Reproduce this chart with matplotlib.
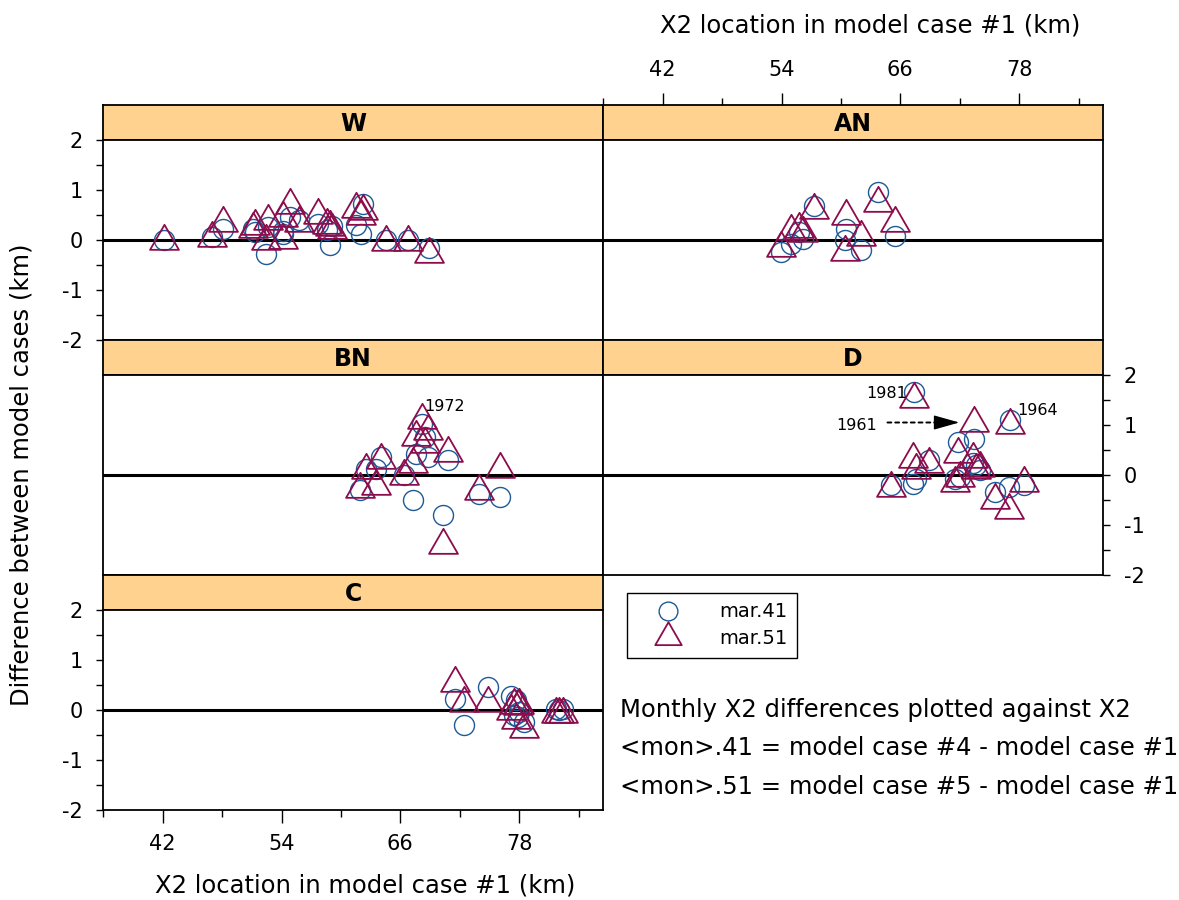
import numpy as np
import matplotlib.pyplot as plt
from matplotlib.path import Path
from matplotlib.lines import Line2D

plt.rcParams['font.family'] = ['DejaVu Sans']
plt.rcParams['axes.unicode_minus'] = False

# X2 in model case #1 (km) and differences (km) for march, by year type
w_x = [42.1, 47.0, 48.1, 51.1, 51.3, 52.4, 52.6, 54.1, 54.2, 54.9, 55.8,
       57.7, 58.6, 58.9, 59.1, 61.5, 62.2, 62.0, 64.6, 66.8, 68.9]
w_41 = [0.01, 0.07, 0.22, 0.23, 0.17, -0.28, 0.27, 0.13, 0.18, 0.47, 0.41,
        0.33, 0.20, -0.10, 0.28, 0.30, 0.72, 0.12, 0.01, 0.01, -0.15]
w_51 = [-0.02, 0.05, 0.34, 0.23, 0.29, -0.01, 0.38, 0.00, 0.44, 0.70, 0.35,
        0.50, 0.30, 0.26, 0.21, 0.63, 0.59, 0.48, -0.04, -0.04, -0.27]

an_x = [53.9, 55.0, 55.8, 56.2, 57.3, 60.5, 60.4, 62.0, 63.7, 65.5]
an_41 = [-0.23, -0.08, 0.17, 0.03, 0.68, 0.23, 0.00, -0.20, 0.97, 0.09]
an_51 = [-0.15, 0.19, 0.22, 0.15, 0.60, 0.49, -0.24, 0.06, 0.75, 0.34]

bn_x = [61.95, 62.55, 63.56, 64.06, 66.4, 67.25, 67.6, 68.2, 68.5, 68.8,
        70.3, 70.8, 73.9, 76.1]
bn_41 = [-0.29, 0.13, 0.13, 0.37, 0.00, -0.49, 0.43, 1.03, 0.77, 0.37,
         -0.80, 0.31, -0.37, -0.43]
bn_51 = [-0.28, 0.11, -0.21, 0.30, -0.02, 0.22, 0.76, 1.10, 0.62, 0.89,
         -1.39, 0.44, -0.31, 0.13]

d_x = [65.1, 67.4, 67.3, 67.6, 68.9, 71.5, 71.8, 72.0, 73.4, 73.3, 73.6,
       74.0, 75.6, 77.1, 77.0, 78.5]
d_41 = [-0.20, 1.67, -0.17, -0.07, 0.30, -0.07, 0.67, -0.03, 0.72, 0.25,
        0.20, 0.10, -0.33, 1.10, -0.23, -0.20]
d_51 = [-0.25, 1.53, 0.33, 0.10, 0.23, -0.16, 0.42, -0.05, 1.04, 0.33,
        0.11, 0.15, -0.50, 1.01, -0.70, -0.15]

c_x = [71.5, 72.4, 74.9, 77.2, 77.5, 77.7, 77.9, 78.0, 78.5, 81.7, 82.0, 82.4]
c_41 = [0.21, -0.30, 0.45, 0.27, -0.11, 0.20, -0.15, -0.05, -0.25, 0.02,
        0.00, 0.02]
c_51 = [0.54, 0.13, 0.13, -0.03, 0.10, -0.20, 0.07, 0.09, -0.39, -0.09,
        -0.09, -0.09]

x_major = [42, 54, 66, 78]
x_minor = [36, 48, 60, 72, 84]
y_major = [-2, -1, 0, 1, 2]
y_minor = [-1.5, -0.5, 0.5, 1.5]
xlim = (36, 86.45)

blue = '#1d5a98'
maroon = '#8c0c4c'
strip_col = '#ffd290'

# R style triangle (centred on its centroid)
tri = Path([(0, 1.555), (1.3468, -0.7776), (-1.3468, -0.7776), (0, 1.555)],
           closed=True)

W_PX, H_PX = 1179, 900
fig = plt.figure(figsize=(11.79, 9), dpi=100)


def rect(x0, y0, x1, y1):
    return [x0 / W_PX, 1 - y1 / H_PX, (x1 - x0) / W_PX, (y1 - y0) / H_PX]


def panel(x0, y0, title, x, y41, y51):
    x1 = x0 + 499.5
    s = fig.add_axes(rect(x0, y0 - 35, x1, y0))
    s.set_facecolor(strip_col)
    s.set_xlim(*xlim)
    s.set_xticks([])
    s.set_yticks([])
    s.text(0.5, 0.45, title, transform=s.transAxes, ha='center', va='center',
           fontsize=17, fontweight='bold')
    ax = fig.add_axes(rect(x0, y0, x1, y0 + 200))
    ax.set_xlim(*xlim)
    ax.set_ylim(-2, 2)
    ax.axhline(0, color='black', lw=2.2, zorder=1)
    ax.plot(x, y41, ls='none', marker='o', ms=14.4, mfc='none', mec=blue,
            mew=1.0, zorder=2)
    ax.plot(x, y51, ls='none', marker=tri, ms=24, mfc='none', mec=maroon,
            mew=1.3, zorder=3)
    ax.set_xticks(x_major)
    ax.set_xticks(x_minor, minor=True)
    ax.set_yticks(y_major)
    ax.set_yticks(y_minor, minor=True)
    ax.tick_params(which='both', left=False, bottom=False, labelleft=False,
                   labelbottom=False, direction='out', width=1, labelsize=15)
    for a in (s, ax):
        for sp in a.spines.values():
            sp.set_linewidth(1.3)
    return s, ax


_, ax_w = panel(103.3, 140, 'W', w_x, w_41, w_51)
s_an, ax_an = panel(603.3, 140, 'AN', an_x, an_41, an_51)
_, ax_bn = panel(103.3, 375, 'BN', bn_x, bn_41, bn_51)
_, ax_d = panel(603.3, 375, 'D', d_x, d_41, d_51)
_, ax_c = panel(103.3, 609.5, 'C', c_x, c_41, c_51)

for ax in (ax_w, ax_c):
    ax.tick_params(axis='y', which='both', left=True, length=5, pad=10)
    ax.tick_params(axis='y', which='major', labelleft=True)
ax_d.tick_params(axis='y', which='both', right=True, length=5, pad=10)
ax_d.tick_params(axis='y', which='major', labelright=True)
ax_c.tick_params(axis='x', which='both', bottom=True, pad=9)
ax_c.tick_params(axis='x', which='major', labelbottom=True, length=9)
ax_c.tick_params(axis='x', which='minor', length=5)

# top axis sits above the AN strip
s_an.set_xticks(x_major)
s_an.set_xticks(x_minor, minor=True)
s_an.tick_params(axis='x', which='both', top=True, bottom=False,
                 labelbottom=False, labeltop=True, direction='out', width=1,
                 labelsize=15, pad=9)
s_an.tick_params(axis='x', which='major', length=9)
s_an.tick_params(axis='x', which='minor', length=5)

# year labels
ax_bn.text(68.4, 1.37, '1972', ha='left', va='center', fontsize=11.5)
ax_d.text(66.7, 1.63, '1981', ha='right', va='center', fontsize=11.5)
ax_d.text(77.8, 1.29, '1964', ha='left', va='center', fontsize=11.5)
ax_d.text(63.6, 1.0, '1961', ha='right', va='center', fontsize=11.5)
ax_d.annotate('', xy=(70.2, 1.05), xytext=(64.7, 1.05),
              arrowprops=dict(arrowstyle='-', color='black', lw=1.4,
                              linestyle=(0, (2, 2)), shrinkA=0, shrinkB=0))
ax_d.annotate('', xy=(71.96, 1.05), xytext=(69.8, 1.05),
              arrowprops=dict(arrowstyle='-|>,head_length=1.6,head_width=0.45',
                              color='black', lw=1.0, shrinkA=0, shrinkB=0,
                              mutation_scale=10))

# axis titles
fig.text(870 / W_PX, 1 - 32 / H_PX, 'X2 location in model case #1 (km)',
         ha='center', va='baseline', fontsize=17.5)
fig.text(365 / W_PX, 1 - 893 / H_PX, 'X2 location in model case #1 (km)',
         ha='center', va='baseline', fontsize=17.5)
fig.text(22 / W_PX, 1 - 475 / H_PX, 'Difference between model cases (km)',
         ha='center', va='center', rotation=90, fontsize=17.5)

# legend
handles = [Line2D([], [], ls='none', marker='o', ms=13.5, mfc='none',
                  mec=blue, mew=1.0),
           Line2D([], [], ls='none', marker=tri, ms=22, mfc='none',
                  mec=maroon, mew=1.3)]
leg = fig.legend(handles, ['mar.41', 'mar.51'], loc='upper left',
                 bbox_to_anchor=(626.7 / W_PX, 1 - 592.7 / H_PX),
                 borderaxespad=0, fontsize=14, fancybox=False, framealpha=1,
                 edgecolor='black', borderpad=0.5, handlelength=3.2,
                 handletextpad=1.05, labelspacing=0.4)
leg.get_frame().set_linewidth(1.0)

notes = ['Monthly X2 differences plotted against X2',
         '<mon>.41 = model case #4 - model case #1',
         '<mon>.51 = model case #5 - model case #1']
for i, line in enumerate(notes):
    fig.text(620 / W_PX, 1 - (710 + 38.3 * i) / H_PX, line, ha='left',
             va='center', fontsize=17.5)

fig.savefig('out.png', dpi=100)
